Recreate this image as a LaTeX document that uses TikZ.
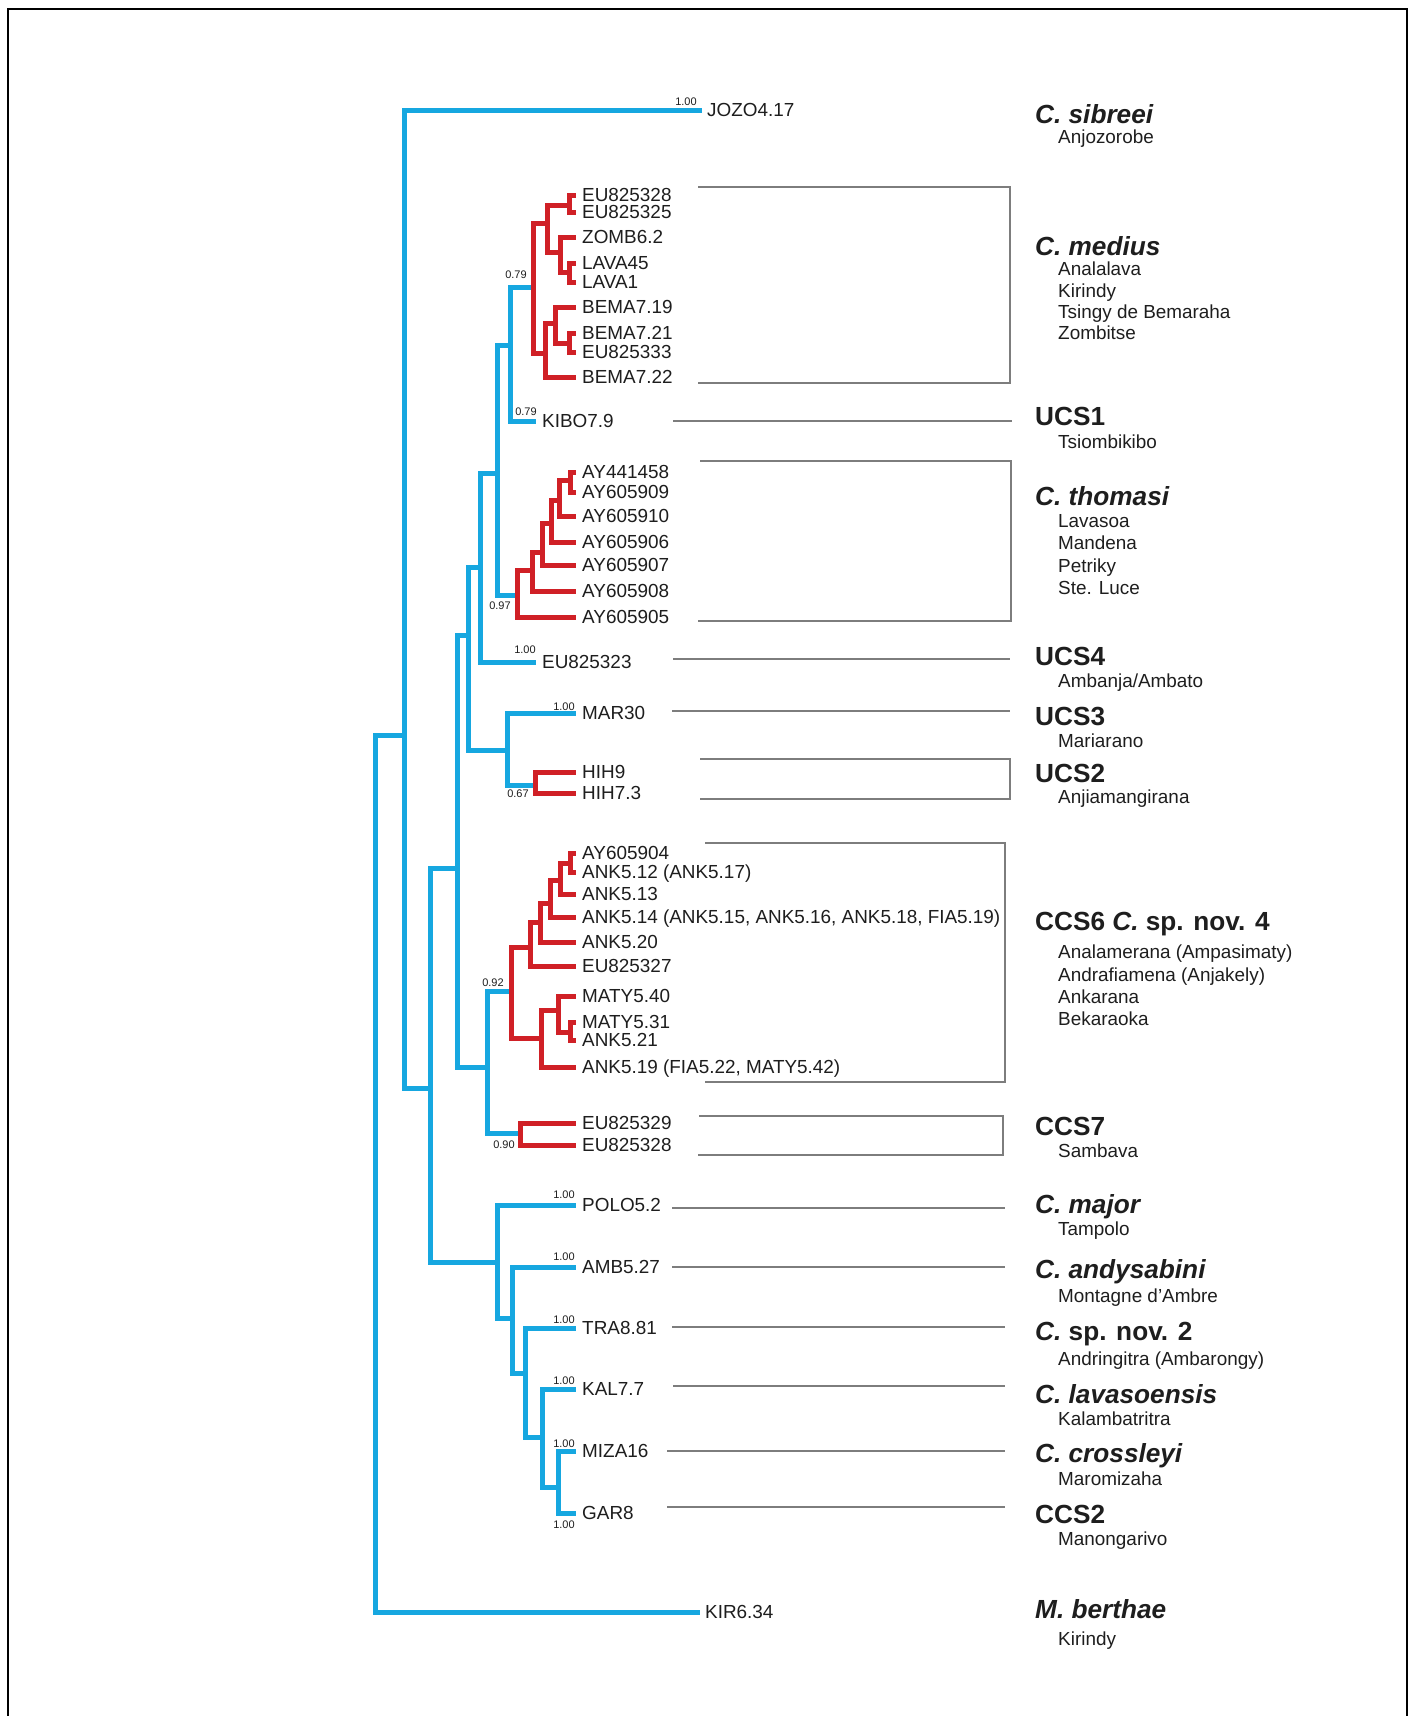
\documentclass[tikz,border=0pt]{standalone}
\usepackage{fontspec}
\setmainfont{Liberation Sans}
\definecolor{tblue}{RGB}{22,167,224}
\definecolor{tred}{RGB}{208,32,38}
\definecolor{bgray}{RGB}{125,125,125}
\definecolor{txt}{RGB}{30,30,30}
\newcommand\tipf{\fontsize{18.9}{20}\selectfont}
\newcommand\bsf{\fontsize{11}{12}\selectfont}
\newcommand\grpf{\fontsize{26.2}{28}\selectfont\bfseries}
\newcommand\locf{\fontsize{18.9}{20}\selectfont}
\tikzset{
  bl/.style={draw=tblue, line width=5pt, line cap=rect, line join=miter},
  rd/.style={draw=tred, line width=5pt, line cap=rect, line join=miter},
  tip/.style={anchor=west, inner xsep=9pt, inner ysep=0pt, text height=13.5pt, text depth=0pt, font=\tipf, text=txt},
  bs/.style={inner sep=0pt, font=\bsf, text=txt},
  grp/.style={anchor=base west, inner sep=0pt, font=\grpf, text=txt},
  loc/.style={anchor=base west, inner sep=0pt, font=\locf, text=txt},
  brk/.style={draw=bgray, line width=2pt},
}
\begin{document}
\begin{tikzpicture}[x=1pt,y=-1pt]
\useasboundingbox (0,0) rectangle (1414,1716);
\fill[white] (0,0) rectangle (1414,1716);
\draw[line width=2.5pt] (8,1716) -- (8,9) -- (1407,9) -- (1407,1716);

% ---------- internal nodes ----------
\coordinate (root) at (375,735);
\coordinate (n1) at (404,735);
\coordinate (n2) at (430,1088);
\coordinate (n3) at (457,868);
\coordinate (nc) at (468,635);
\coordinate (nb) at (480,567);
\coordinate (na) at (497,473);
\coordinate (mk) at (510,345);
\coordinate (me) at (533,287);
\coordinate (me1) at (547,223);
\coordinate (ep) at (569,205);
\coordinate (zl) at (560,252);
\coordinate (lv) at (569,272);
\coordinate (me2) at (545,353);
\coordinate (bm) at (555,323);
\coordinate (bp) at (569,343);
\coordinate (th) at (517,595);
\coordinate (t5) at (532,570);
\coordinate (t4) at (542,552);
\coordinate (t3) at (551,523);
\coordinate (t2) at (559,500);
\coordinate (t1) at (570,480);
\coordinate (mh) at (507,750);
\coordinate (hh) at (535,785);
\coordinate (cc) at (487,1067);
\coordinate (c6) at (511,991);
\coordinate (c6a) at (530,947);
\coordinate (c6a1) at (540,922);
\coordinate (c6a2) at (550,903);
\coordinate (c6a3) at (560,880);
\coordinate (c6a4) at (570,863);
\coordinate (c6b) at (541,1038);
\coordinate (c6b1) at (558,1010);
\coordinate (c6b2) at (570,1032);
\coordinate (c7) at (520,1133);
\coordinate (m1) at (497,1262);
\coordinate (m2) at (512,1318);
\coordinate (m3) at (525,1373);
\coordinate (m4) at (542,1437);
\coordinate (m5) at (558,1487);

% ---------- tips ----------
\node[tip, inner xsep=8pt] (jozo) at (699,110) {JOZO4.17};
\node[tip, inner xsep=8pt] (kir) at (697,1612) {KIR6.34};
\node[tip] (eu28a) at (573,195) {EU825328};
\node[tip] (eu25) at (573,212) {EU825325};
\node[tip] (zomb) at (573,237) {ZOMB6.2};
\node[tip] (lava45) at (573,263) {LAVA45};
\node[tip] (lava1) at (573,282) {LAVA1};
\node[tip] (bema19) at (573,307) {BEMA7.19};
\node[tip] (bema21) at (573,333) {BEMA7.21};
\node[tip] (eu33) at (573,352) {EU825333};
\node[tip] (bema22) at (573,377) {BEMA7.22};
\node[tip] (kibo) at (533,421) {KIBO7.9};
\node[tip] (ay58) at (573,472) {AY441458};
\node[tip] (ay09) at (573,492) {AY605909};
\node[tip] (ay10) at (573,516) {AY605910};
\node[tip] (ay06) at (573,542) {AY605906};
\node[tip] (ay07) at (573,565) {AY605907};
\node[tip] (ay08) at (573,591) {AY605908};
\node[tip] (ay05) at (573,617) {AY605905};
\node[tip] (eu23) at (533,662) {EU825323};
\node[tip] (mar) at (573,713) {MAR30};
\node[tip] (hih9) at (573,772) {HIH9};
\node[tip] (hih73) at (573,793) {HIH7.3};
\node[tip] (ay04) at (573,853) {AY605904};
\node[tip] (a512) at (573,872) {ANK5.12 (ANK5.17)};
\node[tip] (a513) at (573,894) {ANK5.13};
\node[tip] (a514) at (573,917) {ANK5.14 (ANK5.15, ANK5.16, ANK5.18, FIA5.19)};
\node[tip] (a520) at (573,942) {ANK5.20};
\node[tip] (eu27) at (573,966) {EU825327};
\node[tip] (m540) at (573,996) {MATY5.40};
\node[tip] (m531) at (573,1022) {MATY5.31};
\node[tip] (a521) at (573,1040) {ANK5.21};
\node[tip] (a519) at (573,1067) {ANK5.19 (FIA5.22, MATY5.42)};
\node[tip] (eu29) at (573,1123) {EU825329};
\node[tip] (eu28b) at (573,1145) {EU825328};
\node[tip] (polo) at (573,1205) {POLO5.2};
\node[tip] (amb) at (573,1267) {AMB5.27};
\node[tip] (tra) at (573,1328) {TRA8.81};
\node[tip] (kal) at (573,1389) {KAL7.7};
\node[tip] (miza) at (573,1451) {MIZA16};
\node[tip] (gar) at (573,1513) {GAR8};

% ---------- blue branches ----------
\draw[bl] (root) |- (n1);
\draw[bl] (root) |- (kir.west);
\draw[bl] (n1) |- (jozo.west);
\draw[bl] (n1) |- (n2);
\draw[bl] (n2) |- (n3);
\draw[bl] (n2) |- (m1);
\draw[bl] (n3) |- (nc);
\draw[bl] (n3) |- (cc);
\draw[bl] (nc) |- (nb);
\draw[bl] (nc) |- (mh);
\draw[bl] (nb) |- (na);
\draw[bl] (nb) |- (eu23.west);
\draw[bl] (na) |- (mk);
\draw[bl] (na) |- (th);
\draw[bl] (mk) |- (me);
\draw[bl] (mk) |- (kibo.west);
\draw[bl] (mh) |- (mar.west);
\draw[bl] (mh) |- (hh);
\draw[bl] (cc) |- (c6);
\draw[bl] (cc) |- (c7);
\draw[bl] (m1) |- (polo.west);
\draw[bl] (m1) |- (m2);
\draw[bl] (m2) |- (amb.west);
\draw[bl] (m2) |- (m3);
\draw[bl] (m3) |- (tra.west);
\draw[bl] (m3) |- (m4);
\draw[bl] (m4) |- (kal.west);
\draw[bl] (m4) |- (m5);
\draw[bl] (m5) |- (miza.west);
\draw[bl] (m5) |- (gar.west);

% ---------- red branches ----------
\draw[rd] (me) |- (me1);
\draw[rd] (me) |- (me2);
\draw[rd] (me1) |- (ep);
\draw[rd] (me1) |- (zl);
\draw[rd] (ep) |- (eu28a.west);
\draw[rd] (ep) |- (eu25.west);
\draw[rd] (zl) |- (zomb.west);
\draw[rd] (zl) |- (lv);
\draw[rd] (lv) |- (lava45.west);
\draw[rd] (lv) |- (lava1.west);
\draw[rd] (me2) |- (bm);
\draw[rd] (me2) |- (bema22.west);
\draw[rd] (bm) |- (bema19.west);
\draw[rd] (bm) |- (bp);
\draw[rd] (bp) |- (bema21.west);
\draw[rd] (bp) |- (eu33.west);

\draw[rd] (th) |- (t5);
\draw[rd] (th) |- (ay05.west);
\draw[rd] (t5) |- (t4);
\draw[rd] (t5) |- (ay08.west);
\draw[rd] (t4) |- (t3);
\draw[rd] (t4) |- (ay07.west);
\draw[rd] (t3) |- (t2);
\draw[rd] (t3) |- (ay06.west);
\draw[rd] (t2) |- (t1);
\draw[rd] (t2) |- (ay10.west);
\draw[rd] (t1) |- (ay58.west);
\draw[rd] (t1) |- (ay09.west);

\draw[rd] (hh) |- (hih9.west);
\draw[rd] (hh) |- (hih73.west);

\draw[rd] (c6) |- (c6a);
\draw[rd] (c6) |- (c6b);
\draw[rd] (c6a) |- (c6a1);
\draw[rd] (c6a) |- (eu27.west);
\draw[rd] (c6a1) |- (c6a2);
\draw[rd] (c6a1) |- (a520.west);
\draw[rd] (c6a2) |- (c6a3);
\draw[rd] (c6a2) |- (a514.west);
\draw[rd] (c6a3) |- (c6a4);
\draw[rd] (c6a3) |- (a513.west);
\draw[rd] (c6a4) |- (ay04.west);
\draw[rd] (c6a4) |- (a512.west);
\draw[rd] (c6b) |- (c6b1);
\draw[rd] (c6b) |- (a519.west);
\draw[rd] (c6b1) |- (m540.west);
\draw[rd] (c6b1) |- (c6b2);
\draw[rd] (c6b2) |- (m531.west);
\draw[rd] (c6b2) |- (a521.west);

\draw[rd] (c7) |- (eu29.west);
\draw[rd] (c7) |- (eu28b.west);

% ---------- support values ----------
\node[bs] (s1) at (686,102) {1.00};
\node[bs] (s2) at (516,275) {0.79};
\node[bs] (s3) at (526,412) {0.79};
\node[bs] (s4) at (500,606) {0.97};
\node[bs] (s5) at (525,650) {1.00};
\node[bs] (s6) at (564,707) {1.00};
\node[bs] (s7) at (518,794) {0.67};
\node[bs] (s8) at (493,983) {0.92};
\node[bs] (s9) at (504,1145) {0.90};
\node[bs] (s10) at (564,1195) {1.00};
\node[bs] (s11) at (564,1257) {1.00};
\node[bs] (s12) at (564,1320) {1.00};
\node[bs] (s13) at (564,1381) {1.00};
\node[bs] (s14) at (564,1444) {1.00};
\node[bs] (s15) at (564,1525) {1.00};

% ---------- brackets / leader lines ----------
\draw[brk] (698,187) -- (1010,187) -- (1010,383) -- (698,383);
\draw[brk] (673,421) -- (1012,421);
\draw[brk] (700,461) -- (1011,461) -- (1011,621) -- (698,621);
\draw[brk] (673,659) -- (1010,659);
\draw[brk] (672,711) -- (1010,711);
\draw[brk] (700,759) -- (1010,759) -- (1010,799) -- (700,799);
\draw[brk] (705,843) -- (1005,843) -- (1005,1082) -- (705,1082);
\draw[brk] (699,1116) -- (1003,1116) -- (1003,1155) -- (698,1155);
\draw[brk] (672,1208) -- (1005,1208);
\draw[brk] (672,1267) -- (1005,1267);
\draw[brk] (672,1327) -- (1005,1327);
\draw[brk] (673,1386) -- (1005,1386);
\draw[brk] (667,1451) -- (1005,1451);
\draw[brk] (667,1507) -- (1005,1507);

% ---------- group names ----------
\node[grp] (g1) at (1035,123) {\itshape C. sibreei};
\node[loc] (l1) at (1058,143) {Anjozorobe};
\node[grp] (g2) at (1035,255) {\itshape C. medius};
\node[loc] (l2a) at (1058,275) {Analalava};
\node[loc] (l2b) at (1058,297) {Kirindy};
\node[loc] (l2c) at (1058,318) {Tsingy de Bemaraha};
\node[loc] (l2d) at (1058,339) {Zombitse};
\node[grp] (g3) at (1035,425) {UCS1};
\node[loc] (l3) at (1058,448) {Tsiombikibo};
\node[grp] (g4) at (1035,505) {\itshape C. thomasi};
\node[loc] (l4a) at (1058,527) {Lavasoa};
\node[loc] (l4b) at (1058,549) {Mandena};
\node[loc] (l4c) at (1058,572) {Petriky};
\node[loc] (l4d) at (1058,594) {Ste. Luce};
\node[grp] (g5) at (1035,665) {UCS4};
\node[loc] (l5) at (1058,687) {Ambanja/Ambato};
\node[grp] (g6) at (1035,725) {UCS3};
\node[loc] (l6) at (1058,747) {Mariarano};
\node[grp] (g7) at (1035,782) {UCS2};
\node[loc] (l7) at (1058,803) {Anjiamangirana};
\node[grp] (g8) at (1035,930) {CCS6 {\itshape C.} sp. nov. 4};
\node[loc] (l8a) at (1058,958) {Analamerana (Ampasimaty)};
\node[loc] (l8b) at (1058,981) {Andrafiamena (Anjakely)};
\node[loc] (l8c) at (1058,1003) {Ankarana};
\node[loc] (l8d) at (1058,1025) {Bekaraoka};
\node[grp] (g9) at (1035,1135) {CCS7};
\node[loc] (l9) at (1058,1157) {Sambava};
\node[grp] (g10) at (1035,1213) {\itshape C. major};
\node[loc] (l10) at (1058,1235) {Tampolo};
\node[grp] (g11) at (1035,1278) {\itshape C. andysabini};
\node[loc] (l11) at (1058,1302) {Montagne d'Ambre};
\node[grp] (g12) at (1035,1340) {{\itshape C.} sp. nov. 2};
\node[loc] (l12) at (1058,1365) {Andringitra (Ambarongy)};
\node[grp] (g13) at (1035,1403) {\itshape C. lavasoensis};
\node[loc] (l13) at (1058,1425) {Kalambatritra};
\node[grp] (g14) at (1035,1462) {\itshape C. crossleyi};
\node[loc] (l14) at (1058,1485) {Maromizaha};
\node[grp] (g15) at (1035,1523) {CCS2};
\node[loc] (l15) at (1058,1545) {Manongarivo};
\node[grp] (g16) at (1035,1618) {\itshape M. berthae};
\node[loc] (l16) at (1058,1645) {Kirindy};
\end{tikzpicture}
\end{document}
